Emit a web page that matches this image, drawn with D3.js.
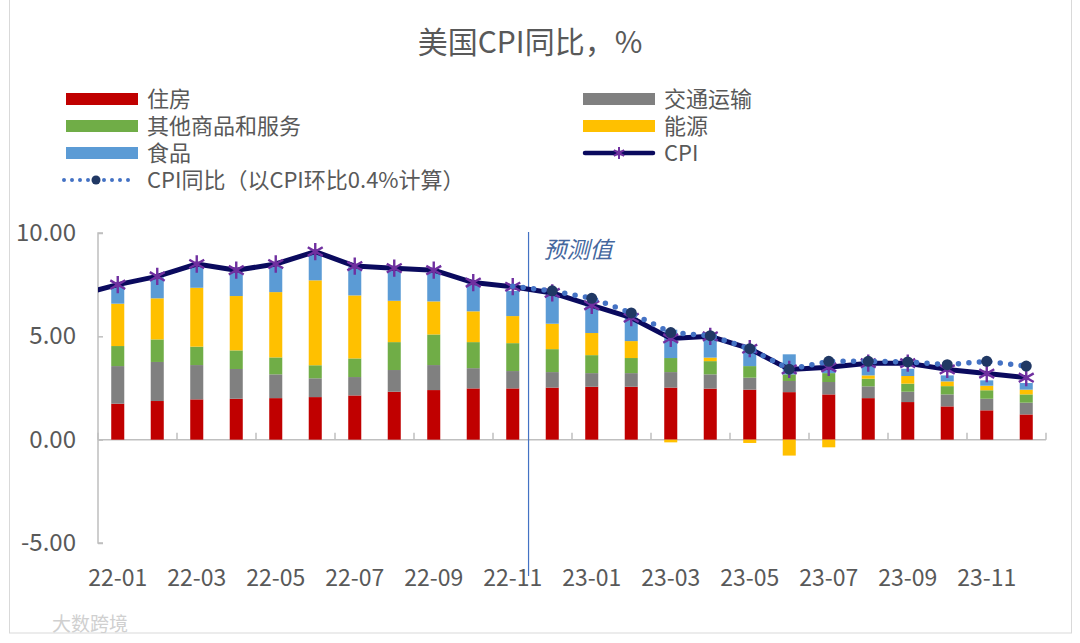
<!DOCTYPE html>
<html>
<head>
<meta charset="utf-8">
<script src="https://cdn.jsdelivr.net/npm/d3@7"></script>
<style>
  body { margin: 0; background: #fff; }
  svg text { font-family: "Noto Sans CJK SC", "Noto Sans", sans-serif; fill: #595959; }
</style>
</head>
<body>
<div id="chart"></div>
<script>
const months = ["22-01","22-02","22-03","22-04","22-05","22-06","22-07","22-08","22-09","22-10","22-11","22-12",
  "23-01","23-02","23-03","23-04","23-05","23-06","23-07","23-08","23-09","23-10","23-11","23-12"];
const tickLabels = ["22-01","22-03","22-05","22-07","22-09","22-11","23-01","23-03","23-05","23-07","23-09","23-11"];

const housing   = [1.74,1.87,1.95,1.98,2.01,2.06,2.14,2.32,2.40,2.48,2.48,2.52,2.56,2.56,2.52,2.47,2.42,2.30,2.19,2.01,1.82,1.61,1.42,1.22];
const transport = [1.82,1.89,1.66,1.44,1.15,0.91,0.89,1.05,1.21,0.98,0.84,0.75,0.66,0.66,0.75,0.69,0.58,0.54,0.60,0.57,0.50,0.58,0.56,0.57];
const other     = [0.97,1.09,0.89,0.90,0.82,0.63,0.90,1.35,1.48,1.26,1.35,1.11,0.87,0.73,0.68,0.64,0.56,0.32,0.43,0.37,0.39,0.40,0.41,0.40];
const energy    = [2.05,1.99,2.85,2.63,3.16,4.11,3.05,2.00,1.60,1.49,1.31,1.23,1.07,0.82,-0.13,0.17,-0.16,-0.77,-0.37,0.16,0.37,0.23,0.22,0.23];
const food      = [0.87,1.01,1.10,1.15,1.26,1.29,1.37,1.53,1.46,1.34,1.22,1.44,1.29,1.13,1.37,1.16,0.95,0.97,0.21,0.57,0.35,0.29,0.26,0.32];

const cpi = [7.5,7.9,8.5,8.2,8.5,9.1,8.4,8.3,8.2,7.6,7.4,7.1,6.5,5.9,4.9,5.0,4.4,3.4,3.5,3.7,3.7,3.4,3.2,3.0];
const cpiPrev = 7.0; // 21-12, cut off at the left edge
const forecastMonths = months.slice(10);
const forecast = [7.42,7.2,6.84,6.13,5.18,5.03,4.4,3.41,3.79,3.79,3.76,3.63,3.79,3.56];

const seriesKeys = ["住房","交通运输","其他商品和服务","能源","食品"];
const seriesValues = [housing, transport, other, energy, food];
const colors = ["#C00000","#808080","#70AD47","#FFC000","#5B9BD5"];
const yTicks = [10, 5, 0, -5];

const width = 1080, height = 643;
const plotLeft = 98, plotRight = 1046, plotTop = 233, plotBottom = 543;

const svg = d3.select("#chart").append("svg")
  .attr("width", width).attr("height", height)
  .attr("viewBox", [0, 0, width, height]);

svg.append("rect")
  .attr("x", 9.5).attr("y", -1).attr("width", 1062).attr("height", 634)
  .attr("fill", "none").attr("stroke", "#D9D9D9");

svg.append("text")
  .attr("x", 530).attr("y", 53).attr("text-anchor", "middle")
  .style("font-size", "30px").text("美国CPI同比，%");

const x = d3.scaleBand().domain(months).range([plotLeft, plotRight])
  .paddingInner(0.67).paddingOuter(0.335);
const step = x.step();
const cx = (m) => x(m) + x.bandwidth() / 2;
const y = d3.scaleLinear().domain([-5, 10]).range([plotBottom, plotTop]);

// y axis
const yAxis = svg.append("g").attr("transform", `translate(${plotLeft},0)`)
  .call(d3.axisRight(y).tickValues(yTicks).tickSize(5).tickFormat(""));
yAxis.select(".domain").attr("stroke", "#BFBFBF").attr("stroke-width", 1.5)
  .attr("d", `M5,${plotTop}H0V${plotBottom}H5`);
yAxis.selectAll(".tick line").attr("stroke", "#BFBFBF").attr("stroke-width", 1.5);
svg.append("g").selectAll("text").data(yTicks).join("text")
  .attr("x", 76).attr("y", (d) => y(d) + 8).attr("text-anchor", "end")
  .style("font-size", "24px").text((d) => d.toFixed(2));

// x axis at zero
svg.append("line").attr("x1", plotLeft).attr("x2", plotRight)
  .attr("y1", y(0)).attr("y2", y(0))
  .attr("stroke", "#BFBFBF").attr("stroke-width", 1.5);
const boundaries = d3.range(0, months.length + 1, 2);
svg.append("g").selectAll("line").data(boundaries).join("line")
  .attr("x1", (k) => plotLeft + k * step).attr("x2", (k) => plotLeft + k * step)
  .attr("y1", y(0)).attr("y2", y(0) - 7)
  .attr("stroke", "#BFBFBF").attr("stroke-width", 1.5);
svg.append("g").selectAll("text").data(tickLabels).join("text")
  .attr("x", cx).attr("y", 586).attr("text-anchor", "middle")
  .style("font-size", "23px").text((d) => d);

// stacked bars
const table = months.map((m, i) => {
  const row = { month: m };
  seriesKeys.forEach((k, j) => (row[k] = seriesValues[j][i]));
  return row;
});
const stacked = d3.stack().keys(seriesKeys).offset(d3.stackOffsetDiverging)(table);
svg.append("g").selectAll("g").data(stacked).join("g")
  .attr("fill", (d, i) => colors[i])
  .selectAll("rect").data((d) => d).join("rect")
  .attr("x", (d) => x(d.data.month))
  .attr("width", x.bandwidth())
  .attr("y", (d) => y(Math.max(d[0], d[1])))
  .attr("height", (d) => Math.abs(y(d[0]) - y(d[1])));

// forecast divider
const divX = cx("22-11") + 0.4 * step;
svg.append("line").attr("x1", divX).attr("x2", divX)
  .attr("y1", plotTop - 1).attr("y2", 576)
  .attr("stroke", "#4472C4").attr("stroke-width", 1.2);
svg.append("text").attr("x", divX + 15).attr("y", 258)
  .style("font-size", "23px").style("font-style", "italic")
  .style("fill", "#44679E").text("预测值");

// CPI line
svg.append("clipPath").attr("id", "plot-clip").append("rect")
  .attr("x", plotLeft).attr("y", 0).attr("width", plotRight - plotLeft).attr("height", height);
const cpiPts = [[cx(months[0]) - step, cpiPrev]].concat(months.map((m, i) => [cx(m), cpi[i]]));
const line = d3.line().x((d) => d[0]).y((d) => y(d[1]));
svg.append("path").datum(cpiPts)
  .attr("clip-path", "url(#plot-clip)")
  .attr("fill", "none").attr("stroke", "#0A0A5E").attr("stroke-width", 5)
  .attr("stroke-linejoin", "round").attr("d", line);

const star = d3.symbol(d3.symbolAsterisk, 210)();
svg.append("g").selectAll("path").data(months).join("path")
  .attr("transform", (m, i) => `translate(${cx(m)},${y(cpi[i])})`)
  .attr("d", star).attr("fill", "none")
  .attr("stroke", "#7030A0").attr("stroke-width", 2.4);

// forecast dotted line
const fcPts = forecastMonths.map((m, i) => [cx(m), forecast[i]]);
svg.append("path").datum(fcPts)
  .attr("fill", "none").attr("stroke", "#4472C4").attr("stroke-width", 5.5)
  .attr("stroke-linecap", "round").attr("stroke-dasharray", "0 10.5").attr("d", line);
svg.append("g").selectAll("circle").data(fcPts.slice(1)).join("circle")
  .attr("cx", (d) => d[0]).attr("cy", (d) => y(d[1])).attr("r", 5.5)
  .attr("fill", "#203864");

// legend
const legendItems = [
  { name: "住房", type: "bar", color: colors[0], x: 66, y: 99 },
  { name: "其他商品和服务", type: "bar", color: colors[2], x: 66, y: 126 },
  { name: "食品", type: "bar", color: colors[4], x: 66, y: 153 },
  { name: "CPI同比（以CPI环比0.4%计算）", type: "fc", x: 66, y: 180 },
  { name: "交通运输", type: "bar", color: colors[1], x: 583, y: 99 },
  { name: "能源", type: "bar", color: colors[3], x: 583, y: 126 },
  { name: "CPI", type: "cpi", x: 583, y: 153 }
];
const lg = svg.append("g");
legendItems.forEach((d) => {
  const g = lg.append("g").attr("transform", `translate(${d.x},${d.y})`);
  if (d.type === "bar") {
    g.append("rect").attr("x", 0).attr("y", -6).attr("width", 72).attr("height", 12).attr("fill", d.color);
  } else if (d.type === "cpi") {
    g.append("line").attr("x1", 2).attr("x2", 70).attr("stroke", "#0A0A5E")
      .attr("stroke-width", 4.5).attr("stroke-linecap", "round");
    g.append("path").attr("transform", "translate(36,0)").attr("d", d3.symbol(d3.symbolAsterisk, 100)())
      .attr("fill", "none").attr("stroke", "#7030A0").attr("stroke-width", 2);
  } else {
    g.append("line").attr("x1", -2).attr("x2", 68).attr("stroke", "#4472C4")
      .attr("stroke-width", 4).attr("stroke-linecap", "round").attr("stroke-dasharray", "0 8");
    g.append("circle").attr("cx", 30).attr("r", 4.5).attr("fill", "#203864");
  }
  g.append("text").attr("x", 81).attr("y", 8)
    .style("font-size", "22px").text(d.name);
});

// watermark
svg.append("text").attr("x", 52).attr("y", 631)
  .style("font-size", "19px").style("fill", "#D0D0D0").text("大数跨境");
</script>
</body>
</html>
